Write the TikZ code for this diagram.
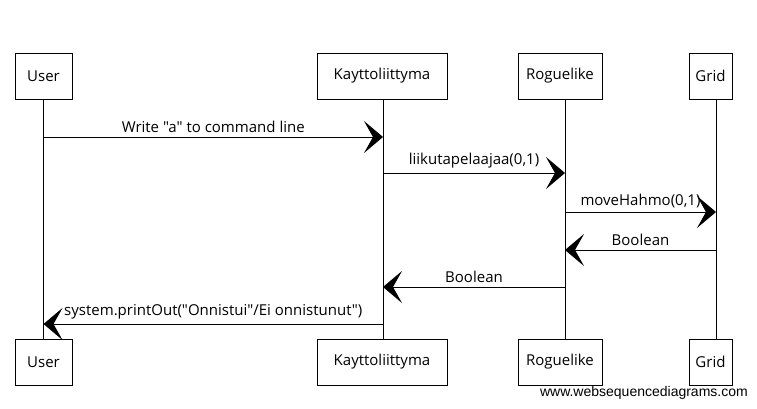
\documentclass[tikz,border=0pt]{standalone}
\usepackage{fontspec}
\newfontfamily\hand{Open Sans}
\newfontfamily\wmfont{Liberation Sans}
\usetikzlibrary{arrows.meta,calc}
\tikzset{
  actor/.style={draw, line width=0.8pt, minimum height=46pt, inner sep=0pt, font=\hand\fontsize{15}{17}\selectfont},
  life/.style={line width=0.8pt},
  msg/.style={line width=0.9pt, -{Stealth[length=19pt,width=32pt,inset=9pt]}},
  lbl/.style={font=\hand\fontsize{15}{17}\selectfont, inner sep=0pt}
}
\begin{document}
\begin{tikzpicture}[x=1pt,y=-1pt]
\useasboundingbox (0,0) rectangle (757,408);
% top actors
\node[actor, minimum width=57pt]  (u1) at (43.5,76) {User};
\node[actor, minimum width=130pt] (k1) at (382,76) {Kayttoliittyma};
\node[actor, minimum width=84pt]  (r1) at (560,76) {Roguelike};
\node[actor, minimum width=43pt]  (g1) at (710.5,76) {Grid};
% bottom actors
\node[actor, minimum width=57pt]  (u2) at (43.5,362) {User};
\node[actor, minimum width=130pt] (k2) at (382,362) {Kayttoliittyma};
\node[actor, minimum width=84pt]  (r2) at (560,362) {Roguelike};
\node[actor, minimum width=43pt]  (g2) at (710.5,362) {Grid};
% lifelines
\draw[life] (u1.south) -- (u2.north);
\draw[life] ([xshift=1pt]k1.south) -- ([xshift=1pt]k2.north);
\draw[life] ([xshift=5pt]r1.south) -- ([xshift=5pt]r2.north);
\draw[life] ([xshift=5.5pt]g1.south) -- ([xshift=5.5pt]g2.north);
\coordinate (U) at ([xshift=0pt]u1.south);
\coordinate (K) at ([xshift=1pt]k1.south);
\coordinate (R) at ([xshift=5pt]r1.south);
\coordinate (G) at ([xshift=5.5pt]g1.south);
% messages
\draw[msg] (U |- 0,137) -- node[lbl, above=4pt] {Write "a" to command line} (K |- 0,137);
\draw[msg] (K |- 0,173) -- node[lbl, above=4pt] {liikutapelaajaa(0,1)} (R |- 0,173);
\draw[msg] (R |- 0,212) -- node[lbl, above=4pt] {moveHahmo(0,1)} (G |- 0,212);
\draw[msg] (G |- 0,250) -- node[lbl, above=4pt] {Boolean} (R |- 0,250);
\draw[msg] (R |- 0,287) -- node[lbl, above=4pt] {Boolean} (K |- 0,287);
\draw[msg] (K |- 0,324) -- node[lbl, above=4pt] {system.printOut("Onnistui"/Ei onnistunut")} (U |- 0,324);
% watermark
\node[anchor=east, inner sep=0pt, font=\wmfont\fontsize{14}{16}\selectfont] (wm) at (748,393) {www.websequencediagrams.com};
\end{tikzpicture}
\end{document}
